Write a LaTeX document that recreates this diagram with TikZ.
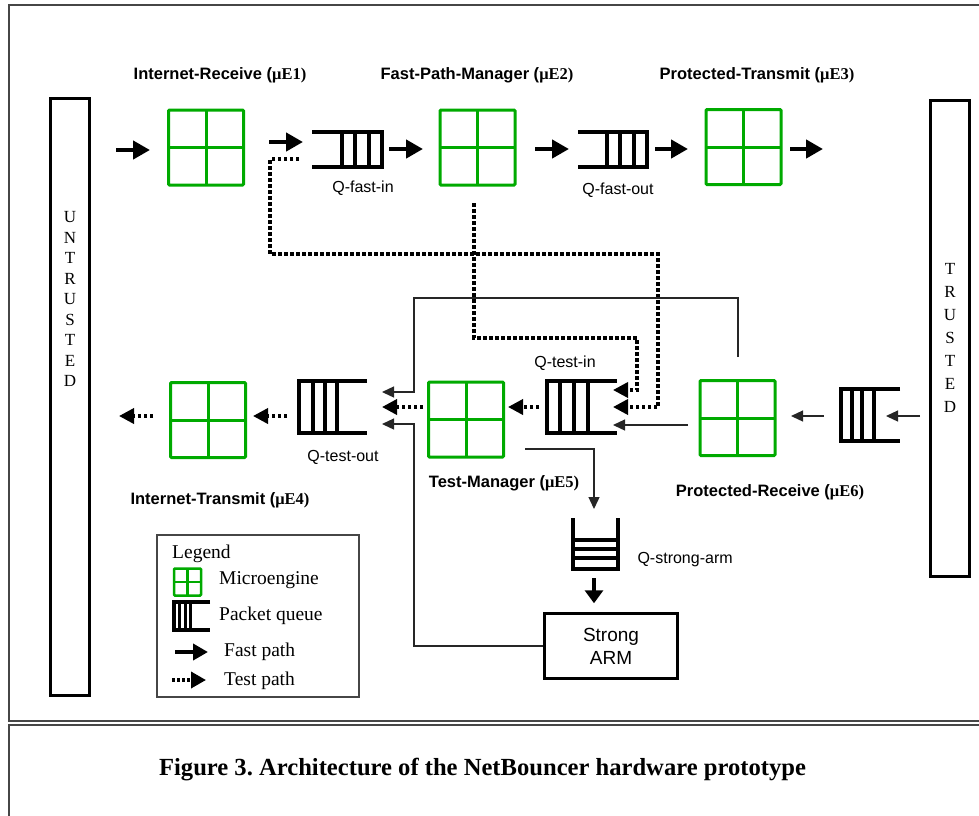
\documentclass[tikz,border=0pt]{standalone}
\usepackage{fontspec}
\setmainfont{Liberation Serif}
\setsansfont{Liberation Sans}
\usetikzlibrary{arrows.meta,calc}
\frenchspacing
\definecolor{meg}{RGB}{0,170,0}
\definecolor{framegray}{RGB}{70,70,70}
\newcommand{\melabel}[2]{{\sffamily\bfseries #1 (}{\rmfamily\bfseries μE#2)}}
\newcommand{\queueR}[2]{%
  \draw[qline] (#1.north west) -- (#1.north east) -- (#1.south east) -- (#1.south west);
  \foreach \d in {#2} \draw[qline] ($(#1.north east)+(-\d,0)$) -- ($(#1.south east)+(-\d,0)$);}
\newcommand{\queueL}[2]{%
  \draw[qline] (#1.north east) -- (#1.north west) -- (#1.south west) -- (#1.south east);
  \foreach \d in {#2} \draw[qline] ($(#1.north west)+(\d,0)$) -- ($(#1.south west)+(\d,0)$);}
\newcommand{\queueB}[2]{%
  \draw[qline] (#1.north west) -- (#1.south west) -- (#1.south east) -- (#1.north east);
  \foreach \d in {#2} \draw[qline] ($(#1.south west)+(0,-\d)$) -- ($(#1.south east)+(0,-\d)$);}
\tikzset{
  engine/.style={draw=meg, line width=3pt, rounded corners=1pt, minimum width=75pt, minimum height=75pt,
    inner sep=0pt, outer sep=0pt,
    path picture={\draw[meg, line width=3pt] (path picture bounding box.north) -- (path picture bounding box.south)
      (path picture bounding box.west) -- (path picture bounding box.east);}},
  minieng/.style={engine, line width=2.5pt, minimum width=27pt, minimum height=27pt,
    path picture={\draw[meg, line width=2.5pt] (path picture bounding box.north) -- (path picture bounding box.south)
      (path picture bounding box.west) -- (path picture bounding box.east);}},
  qbox/.style={inner sep=0pt, outer sep=0pt},
  qline/.style={line width=3.5pt},
  fast/.style={line width=4.5pt, -{Triangle[length=17pt,width=18pt]}},
  test/.style={line width=3.5pt, dash pattern=on 3.5pt off 2.5pt, -{Triangle[length=15pt,width=15pt]}},
  thin/.style={line width=1.3pt, black!85, -{Triangle[length=12pt,width=11pt]}},
  bigfont/.style={font=\fontsize{16.5}{20}\selectfont},
  qfont/.style={font=\sffamily\fontsize{16}{19}\selectfont},
  legfont/.style={font=\fontsize{19.5}{23}\selectfont, anchor=west, inner sep=0pt},
  sidebox/.style={draw, line width=3pt, inner sep=0pt, minimum width=39pt},
  sidetext/.style={align=center, inner sep=0pt},
  frameline/.style={draw=framegray, line width=1.5pt}
}
\begin{document}
\begin{tikzpicture}[x=1pt,y=-1pt]
\useasboundingbox (0,0) rectangle (979,815);
% frames
\draw[frameline] (9,5) rectangle (990,721);
\draw[frameline] (9,725) rectangle (990,840);
% side boxes
\node[sidebox, minimum height=597pt] (untr) at (70,397) {};
\node[sidetext, font=\fontsize{17}{20.5}\selectfont] (untrtxt) at (70,299) {U\\N\\T\\R\\U\\S\\T\\E\\D};
\node[sidebox, minimum height=476pt] (trust) at (950,338.5) {};
\node[sidetext, font=\fontsize{17}{23}\selectfont] (trusttxt) at (950,338) {T\\R\\U\\S\\T\\E\\D};
% microengines
\node[engine] (e1) at (206,147.5) {};
\node[engine] (e2) at (477.5,147.5) {};
\node[engine] (e3) at (743.5,147) {};
\node[engine] (e4) at (208,420) {};
\node[engine] (e5) at (466,419.5) {};
\node[engine] (e6) at (737.5,418) {};
% labels
\node[bigfont] (l1) at (220,75) {\melabel{Internet-Receive}{1}};
\node[bigfont] (l2) at (477,75) {\melabel{Fast-Path-Manager}{2}};
\node[bigfont] (l3) at (757,75) {\melabel{Protected-Transmit}{3}};
\node[bigfont] (l4) at (220,500) {\melabel{Internet-Transmit}{4}};
\node[bigfont] (l5) at (504,483) {\melabel{Test-Manager}{5}};
\node[bigfont] (l6) at (770,492) {\melabel{Protected-Receive}{6}};
% queues
\node[qbox, minimum width=70pt, minimum height=35pt] (qfi) at (347,149.5) {};
\queueR{qfi}{13,27,40}
\node[qbox, minimum width=69pt, minimum height=35pt] (qfo) at (612.5,149.5) {};
\queueR{qfo}{13,27,40}
\node[qbox, minimum width=68pt, minimum height=52pt] (qto) at (333,407) {};
\queueL{qto}{14,26,38}
\node[qbox, minimum width=70pt, minimum height=52pt] (qti) at (582,407) {};
\queueL{qti}{13,27,41}
\node[qbox, minimum width=59pt, minimum height=52pt] (qtr) at (870.5,415) {};
\queueL{qtr}{11,21,33}
\node[qbox, minimum width=45pt, minimum height=51pt] (qsa) at (595.5,543.5) {};
\queueB{qsa}{11,20,29}
% queue labels
\node[qfont] (lqfi) at (363,188) {Q-fast-in};
\node[qfont] (lqfo) at (618,190) {Q-fast-out};
\node[qfont] (lqti) at (565,363) {Q-test-in};
\node[qfont] (lqto) at (343,457) {Q-test-out};
\node[qfont, anchor=west] (lqsa) at (634,560) {Q-strong-arm};
% Strong ARM
\node[draw, line width=2.5pt, minimum width=133pt, minimum height=65pt, inner sep=0pt, align=center,
  font=\sffamily\fontsize{19}{23}\selectfont] (sarm) at (611,646) {Strong\\ARM};
% fast path arrows (top row)
\draw[fast] ($(e1.west)+(-52.5,2.5)$) -- ++(34,0);
\draw[fast] ($(qfi.west)+(-43,-7.5)$) -- ++(34,0);
\draw[fast] ($(qfi.east)+(7,-0.5)$) -- ++(34,0);
\draw[fast] ($(e2.east)+(20,1.5)$) -- ++(34,0);
\draw[fast] ($(qfo.east)+(8,-0.5)$) -- ++(33,0);
\draw[fast] ($(e3.east)+(9,2)$) -- ++(33,0);
% test paths
\draw[test] ($(qfi.west)+(-13,9.5)$) -- ++(-29,0) |- ($(qti.east)+(41,-153)$) |- ($(qti.east)+(-4,0)$);
\draw[test] ($(e2.south)+(-3.5,18)$) |- ($(qti.east)+(20,-69)$) |- ($(qti.east)+(-4,-17)$);
\draw[test] ($(qti.west)+(-8,0)$) -- ($(e5.east)+(4.5,-12.5)$);
\draw[test] ($(e5.west)+(-5.5,-12.5)$) -- ($(qto.east)+(15,0)$);
\draw[test] ($(qto.west)+(-12,9)$) -- ($(e4.east)+(7.5,-4)$);
\draw[test] ($(e4.west)+(-17.5,-4)$) -- ++(-34,0);
% thin connectors
\draw[thin] ($(e6.west)+(-12,7)$) -- ($(qti.east)+(-4,18)$);
\draw[thin] ($(e6.north)+(0.5,-23.5)$) |- ($(qto.east)+(47,-109)$) |- ($(qto.east)+(15,-15)$);
\draw[thin] (sarm.west) -| ($(qto.east)+(47,17)$) -- ($(qto.east)+(15,17)$);
\draw[thin] ($(e5.east)+(21.5,29.5)$) -| ($(qsa.north)+(-1.5,-9)$);
\draw[thin] ($(qtr.west)+(-17,1)$) -- ($(e6.east)+(16,-2)$);
\draw[thin] ($(qtr.east)+(20,1)$) -- ++(-34,0);
\draw[line width=4pt, -{Triangle[length=13pt,width=18pt]}] ($(qsa.south)+(-1.5,9)$) -- ($(sarm.north)+(-17,-9)$);
% legend
\node[draw=framegray, line width=1.5pt, minimum width=202pt, minimum height=162pt, inner sep=0pt] (legend) at (258,616) {};
\node[legfont] (legt) at (172,554) {Legend};
\node[minieng] (lme) at (187.5,582) {};
\node[legfont] (legme) at (219,580) {Microengine};
\node[qbox, minimum width=36pt, minimum height=28pt] (lq) at (192,616) {};
\draw[line width=3.5pt] (lq.north east) -- (lq.north west) -- (lq.south west) -- (lq.south east);
\foreach \d in {5,11,16} \draw[line width=3pt] ($(lq.north west)+(\d,0)$) -- ($(lq.south west)+(\d,0)$);
\node[legfont] (legq) at (219,616) {Packet queue};
\coordinate (lfa) at (175,652);
\coordinate (lfb) at (208,652);
\draw[line width=4pt, -{Triangle[length=15pt,width=16pt]}] (lfa) -- (lfb);
\node[legfont] (legf) at (224,652) {Fast path};
\coordinate (lta) at (172,680);
\coordinate (ltb) at (206,680);
\draw[line width=3.5pt, dash pattern=on 3pt off 2pt, -{Triangle[length=15pt,width=16pt]}] (lta) -- (ltb);
\node[legfont] (legtp) at (224,681) {Test path};
% caption
\node[font=\rmfamily\bfseries\fontsize{24.6}{28}\selectfont] (cap) at (482.5,770) {Figure 3. Architecture of the NetBouncer hardware prototype};
\end{tikzpicture}
\end{document}
